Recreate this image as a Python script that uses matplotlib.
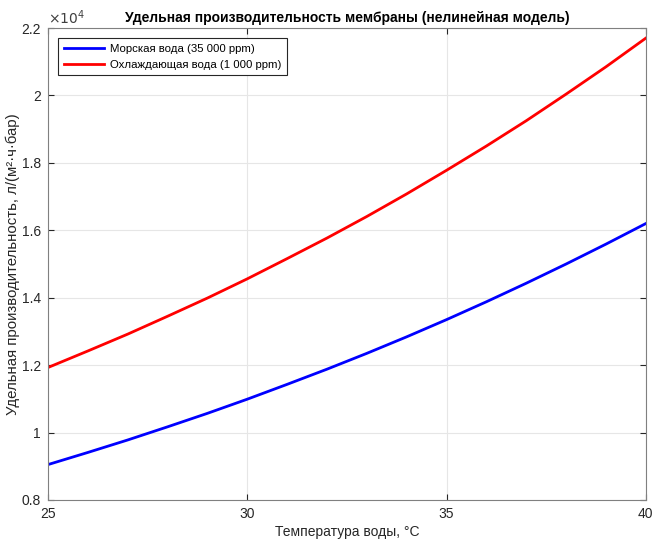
import numpy as np
import matplotlib
matplotlib.use('Agg')
from matplotlib import pyplot as plt
from matplotlib.ticker import FuncFormatter

plt.rcParams['font.family'] = ['Liberation Sans', 'DejaVu Sans']

# temperature, degC
temp = [25, 26, 27, 28, 29, 30, 31, 32, 33, 34, 35, 36, 37, 38, 39, 40]
# specific permeability, l/(m2*h*bar)
sea = [9050, 9410, 9780, 10170, 10570, 10990, 11430, 11880, 12350, 12840,
       13350, 13880, 14430, 15000, 15590, 16200]
cooling = [11930, 12420, 12920, 13450, 13990, 14560, 15160, 15770, 16410, 17080,
           17780, 18500, 19250, 20040, 20850, 21700]

labels = ['Морская вода (35 000 ppm)', 'Охлаждающая вода (1 000 ppm)']

fig = plt.figure(figsize=(6.55, 5.39), dpi=100)
ax = fig.add_axes([0.0733, 0.0724, 0.9127, 0.8756])

ax.plot(temp, sea, color='#0000ff', lw=2, label=labels[0])
ax.plot(temp, cooling, color='#ff0000', lw=2, label=labels[1])

ax.set_xlim(25, 40)
ax.set_ylim(8000, 22000)
ax.set_xticks([25, 30, 35, 40])
ax.set_yticks(np.arange(8000, 22001, 2000))

# matlab style: ticks as 2.2, 2, 1.8 ... with x10^4 on top
ax.yaxis.set_major_formatter(FuncFormatter(lambda v, p: '%g' % round(v / 1e4, 3)))
ax.text(0, 1.003, r'$\times10^4$', transform=ax.transAxes, fontsize=10,
        color='#404040', ha='left', va='bottom')

ax.grid(True, color='#e6e6e6', lw=0.8)
ax.set_axisbelow(True)
ax.tick_params(direction='in', top=True, right=True, labelsize=10,
               color='#262626', labelcolor='#262626', length=4, pad=5)
for s in ax.spines.values():
    s.set_color('#808080')
    s.set_linewidth(0.8)

ax.set_title('Удельная производительность мембраны (нелинейная модель)',
             fontsize=10, fontweight='bold', pad=4)
ax.set_xlabel('Температура воды, °C', fontsize=10, color='#262626', labelpad=3)
ax.set_ylabel('Удельная производительность, л/(м²·ч·бар)', fontsize=10.8,
              color='#262626')
ax.yaxis.set_label_coords(-0.047, 0.5)

leg = ax.legend(loc='upper left', fontsize=8.2, frameon=True, fancybox=False,
                edgecolor='#262626', framealpha=1, borderaxespad=0.9,
                handlelength=3.5, handletextpad=0.5, borderpad=0.5,
                labelspacing=0.5)
leg.get_frame().set_linewidth(0.8)

fig.savefig('out.png', dpi=100)
